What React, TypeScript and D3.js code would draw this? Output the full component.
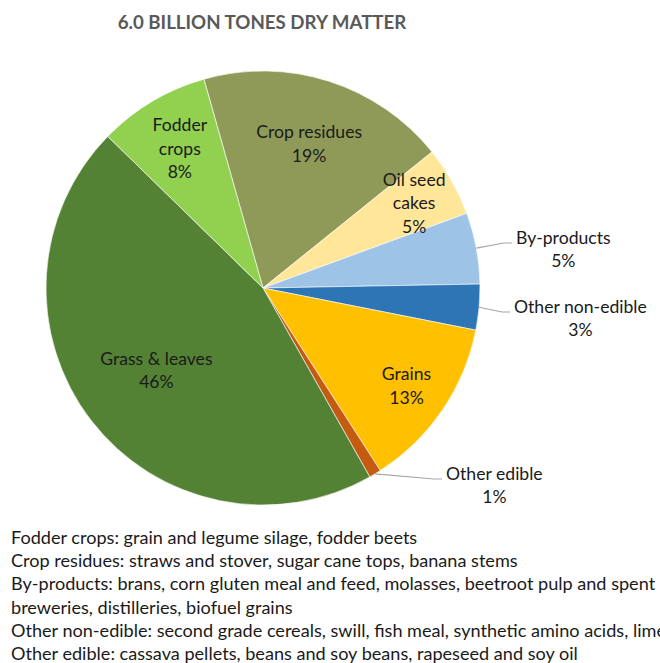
import React from "react";
import * as d3 from "d3";

const title = "6.0 BILLION TONES DRY MATTER";
const categories = [
  "Crop residues",
  "Oil seed cakes",
  "By-products",
  "Other non-edible",
  "Grains",
  "Other edible",
  "Grass & leaves",
  "Fodder crops",
];
const values = [18.6, 5.2, 5.3, 3.4, 12.8, 0.9, 45.5, 8.3];
const labelLines: string[][] = [
  ["Crop residues"],
  ["Oil seed", "cakes"],
  ["By-products"],
  ["Other non-edible"],
  ["Grains"],
  ["Other edible"],
  ["Grass & leaves"],
  ["Fodder", "crops"],
];
const notes = [
  "Fodder crops: grain and legume silage, fodder beets",
  "Crop residues: straws and stover, sugar cane tops, banana stems",
  "By-products: brans, corn gluten meal and feed, molasses, beetroot pulp and spent",
  "breweries, distilleries, biofuel grains",
  "Other non-edible: second grade cereals, swill, fish meal, synthetic amino acids, lime",
  "Other edible: cassava pellets, beans and soy beans, rapeseed and soy oil",
];

// styling
const colors: Record<string, string> = {
  "Crop residues": "#8f9a58",
  "Oil seed cakes": "#ffe699",
  "By-products": "#9dc3e6",
  "Other non-edible": "#2e75b6",
  Grains: "#ffc000",
  "Other edible": "#c55a11",
  "Grass & leaves": "#548235",
  "Fodder crops": "#92d050",
};
// inside labels: radius factor; outside labels: leader end offset from centre
const insideLabelRadius: Record<string, number> = {
  "Crop residues": 0.7,
  "Oil seed cakes": 0.8,
  Grains: 0.8,
  "Grass & leaves": 0.62,
  "Fodder crops": 0.75,
};
const outsideLeaderEnd: Record<string, [number, number]> = {
  "By-products": [249, -45],
  "Other non-edible": [247, 24],
  "Other edible": [179, 191],
};

const W = 660;
const H = 663;
const cx = 263;
const cy = 288;
const R = 217;
const startDeg = -15.8;
const lineH = 23.5;
const fontSize = 17.6;
const notesFontSize = 18.1;
const labelFont = "Lato, 'Open Sans', sans-serif";

export default function App() {
  const data = categories.map((c, i) => ({ name: c, value: values[i], lines: labelLines[i] }));
  const total = d3.sum(values);
  const pie = d3
    .pie<(typeof data)[number]>()
    .sort(null)
    .value((d) => d.value)
    .startAngle((startDeg * Math.PI) / 180)
    .endAngle((startDeg * Math.PI) / 180 + 2 * Math.PI);
  const arcs = pie(data);
  const arc = d3.arc<d3.PieArcDatum<(typeof data)[number]>>().innerRadius(0).outerRadius(R);

  return (
    <svg
      width={W}
      height={H}
      style={{ position: "absolute", left: 0, top: 0, background: "#fff" }}
      fontFamily={labelFont}
    >
      <text
        x={262}
        y={22}
        textAnchor="middle"
        dominantBaseline="central"
        fontSize={18.7}
        fontWeight="bold"
        fill="#595959"
      >
        {title}
      </text>
      <g transform={`translate(${cx},${cy})`}>
        {arcs.map((a) => (
          <path key={a.data.name} d={arc(a) || ""} fill={colors[a.data.name]} stroke="#fff" strokeWidth={0.6} />
        ))}
        {arcs.map((a) => {
          const pct = Math.round((a.data.value / total) * 100) + "%";
          const mid = (a.startAngle + a.endAngle) / 2;
          const lines = [...a.data.lines, pct];
          if (insideLabelRadius[a.data.name] !== undefined) {
            const r = insideLabelRadius[a.data.name] * R;
            const x = r * Math.sin(mid);
            const y = -r * Math.cos(mid);
            const y0 = y - ((lines.length - 1) * lineH) / 2;
            return (
              <g key={a.data.name}>
                {lines.map((l, i) => (
                  <text
                    key={i}
                    x={x}
                    y={y0 + i * lineH}
                    textAnchor="middle"
                    dominantBaseline="central"
                    fontSize={fontSize}
                    fill="#1a1a1a"
                  >
                    {l}
                  </text>
                ))}
              </g>
            );
          }
          const [ex, ey] = outsideLeaderEnd[a.data.name];
          const sx = R * Math.sin(mid);
          const sy = -R * Math.cos(mid);
          const mx = ex - 8;
          const blockCy = ey + 6;
          const y0 = blockCy - ((lines.length - 1) * lineH) / 2;
          const tx = ex + 4;
          return (
            <g key={a.data.name}>
              <polyline
                points={`${sx},${sy} ${mx},${ey} ${ex},${ey}`}
                fill="none"
                stroke="#a6a6a6"
                strokeWidth={1.2}
              />
              <OutsideLabel x={tx} y0={y0} lines={lines} />
            </g>
          );
        })}
      </g>
      {notes.map((n, i) => (
        <text key={i} x={11} y={537 + i * 23.2} dominantBaseline="central" fontSize={notesFontSize} fill="#1a1a1a">
          {n}
        </text>
      ))}
    </svg>
  );
}

function OutsideLabel({ x, y0, lines }: { x: number; y0: number; lines: string[] }) {
  const ref = React.useRef<SVGTextElement>(null);
  const [w, setW] = React.useState(0);
  React.useLayoutEffect(() => {
    if (ref.current) setW(ref.current.getComputedTextLength());
  }, []);
  return (
    <g>
      {lines.map((l, i) => (
        <text
          key={i}
          ref={i === 0 ? ref : undefined}
          x={i === 0 ? x : x + w / 2}
          y={y0 + i * lineH}
          textAnchor={i === 0 ? "start" : "middle"}
          dominantBaseline="central"
          fontSize={fontSize}
          fill="#1a1a1a"
        >
          {l}
        </text>
      ))}
    </g>
  );
}
